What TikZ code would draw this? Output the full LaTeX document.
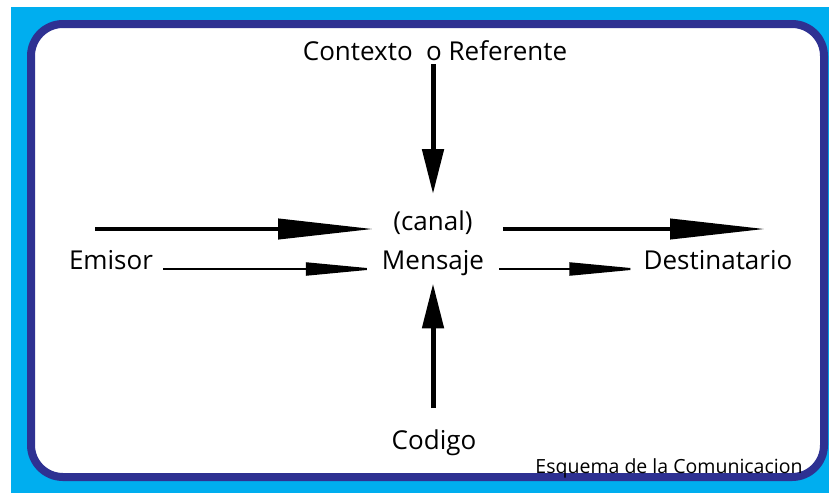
\documentclass[tikz,border=0pt]{standalone}
\usepackage{fontspec}
\setmainfont{Open Sans}
\usetikzlibrary{arrows.meta,positioning}
\definecolor{fondo}{RGB}{0,174,239}
\definecolor{marco}{RGB}{46,49,146}

\tikzset{
  texto/.style={font=\fontsize{26}{30}\selectfont, inner sep=2pt, anchor=base},
  flechagruesa/.style={line width=4pt, -{Triangle[length=95pt,width=20pt]}},
  flechafina/.style={line width=2pt, -{Triangle[length=72pt,width=13pt]}},
  flechavert/.style={line width=5pt, -{Triangle[length=45pt,width=21pt]}},
}

\begin{document}
\begin{tikzpicture}[x=1pt,y=-1pt]
  \useasboundingbox (0,0) rectangle (829,493);
  % fondo y marco
  \fill[fondo] (11,7) rectangle (829,493);
  \draw[marco,line width=8pt,fill=white,rounded corners=32pt] (31,24) rectangle (824,477);

  % textos
  \node[texto] (contexto) at (435,60) {Contexto \ o Referente};
  \node[texto] (emisor) at (111,269) {Emisor};
  \node[texto] (canal) at (433,230) {(canal)};
  \node[texto] (mensaje) at (433,269) {Mensaje};
  \node[texto] (destino) at (718,269) {Destinatario};
  \node[texto] (codigo) at (434,449) {Codigo};
  \node[anchor=base,font=\fontsize{19.5}{22}\selectfont] (esquema) at (669,473) {Esquema de la Comunicacion};

  % flechas
  \coordinate (ini) at (95,229);
  \coordinate (fin) at (765,229);
  \draw[flechagruesa,shorten >=18pt] (ini) -- (canal.base west |- ini);
  \draw[flechafina,shorten <=8pt,shorten >=2pt] (emisor.base east) -- (mensaje.base west);
  \draw[flechagruesa,shorten <=28pt] (canal.base east |- fin) -- (fin);
  \draw[flechafina,shorten <=13pt] (mensaje.base east) -- (destino.base west);
  \draw[flechavert,shorten <=2pt,shorten >=14pt] (canal.north |- contexto.south) -- (canal.north);
  \draw[flechavert,shorten <=19pt,shorten >=6pt] (mensaje.south |- codigo.north) -- (mensaje.south);
\end{tikzpicture}
\end{document}
